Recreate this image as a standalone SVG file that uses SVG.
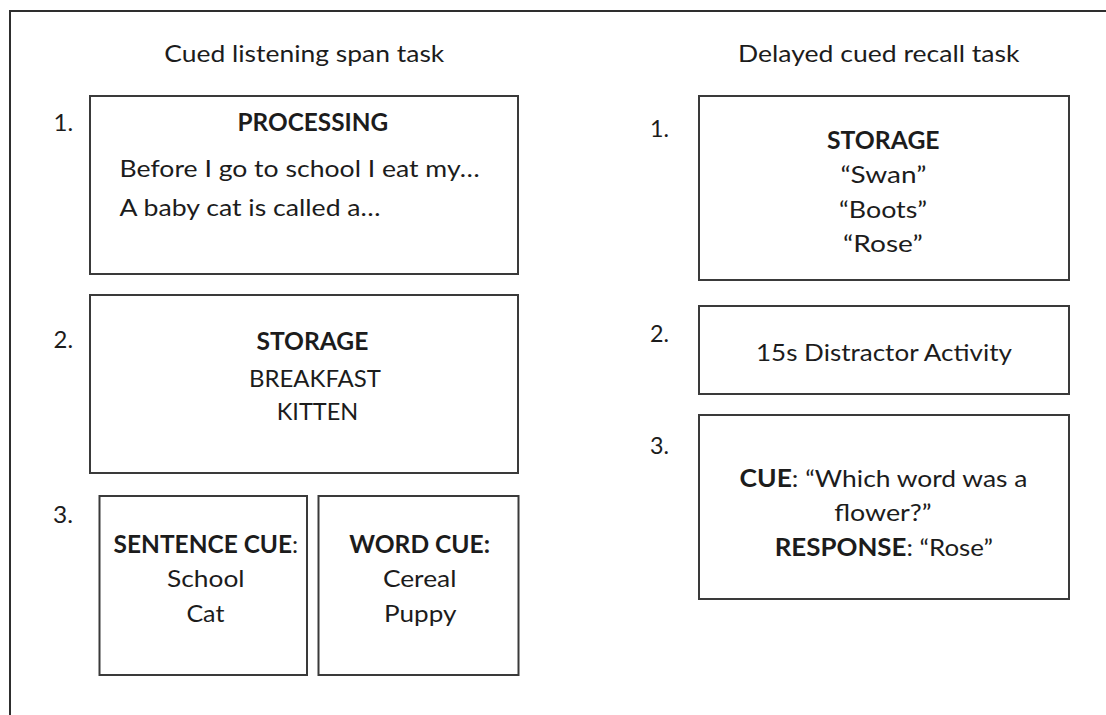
<svg xmlns="http://www.w3.org/2000/svg" width="1106" height="715" viewBox="0 0 1106 715">
  <style>
    .frame { fill: none; stroke: #2e2e2e; stroke-width: 2; }
    .box { fill: #ffffff; stroke: #3a3a3a; stroke-width: 2; }
    text { font-family: Lato, "Open Sans", "Liberation Sans", sans-serif; font-size: 24px; fill: #1c1c1c; }
    .b { font-weight: bold; }
  </style>

  <rect x="0" y="0" width="1106" height="715" fill="#ffffff"/>
  <!-- outer panel border (open on right and bottom) -->
  <path class="frame" d="M10,715 V11 H1106"/>

  <!-- column headings -->
  <g id="heading-left">
    <text x="164.3" y="61.7" textLength="280" lengthAdjust="spacingAndGlyphs">Cued listening span task</text>
  </g>
  <g id="heading-right">
    <text x="738" y="61.7" textLength="281.5" lengthAdjust="spacingAndGlyphs">Delayed cued recall task</text>
  </g>

  <!-- step numbers -->
  <g id="step-numbers">
    <text x="53.6" y="130.7" textLength="19.6" lengthAdjust="spacingAndGlyphs">1.</text>
    <text x="53.6" y="348.3" textLength="19.5" lengthAdjust="spacingAndGlyphs">2.</text>
    <text x="53" y="523.3" textLength="20" lengthAdjust="spacingAndGlyphs">3.</text>
    <text x="650" y="136.7" textLength="19" lengthAdjust="spacingAndGlyphs">1.</text>
    <text x="650" y="341.7" textLength="19" lengthAdjust="spacingAndGlyphs">2.</text>
    <text x="650" y="454" textLength="19" lengthAdjust="spacingAndGlyphs">3.</text>
  </g>

  <!-- left column: cued listening span task -->
  <g id="processing">
    <rect class="box" x="90" y="96" width="428" height="178"/>
    <text class="b" x="237.5" y="130.7" textLength="150.7" lengthAdjust="spacingAndGlyphs">PROCESSING</text>
    <text x="119.6" y="176.7" textLength="360" lengthAdjust="spacingAndGlyphs">Before I go to school I eat my…</text>
    <text x="119.6" y="216" textLength="261" lengthAdjust="spacingAndGlyphs">A baby cat is called a…</text>
  </g>

  <g id="storage-left">
    <rect class="box" x="90" y="295" width="428" height="178"/>
    <text class="b" x="256.4" y="350" textLength="112" lengthAdjust="spacingAndGlyphs">STORAGE</text>
    <text x="249" y="386.7" textLength="132" lengthAdjust="spacingAndGlyphs">BREAKFAST</text>
    <text x="276.8" y="420" textLength="81.4" lengthAdjust="spacingAndGlyphs">KITTEN</text>
  </g>

  <g id="sentence-cue">
    <rect class="box" x="99.5" y="496" width="207.5" height="179"/>
    <text x="113.6" y="553.3" textLength="184.6" lengthAdjust="spacingAndGlyphs"><tspan class="b">SENTENCE CUE</tspan>:</text>
    <text x="167" y="586.7" textLength="77.6" lengthAdjust="spacingAndGlyphs">School</text>
    <text x="186.4" y="621.7" textLength="38" lengthAdjust="spacingAndGlyphs">Cat</text>
  </g>

  <g id="word-cue">
    <rect class="box" x="318.5" y="496" width="200" height="179"/>
    <text class="b" x="349.3" y="553.3" textLength="140.7" lengthAdjust="spacingAndGlyphs">WORD CUE:</text>
    <text x="382.9" y="586.7" textLength="73.5" lengthAdjust="spacingAndGlyphs">Cereal</text>
    <text x="384" y="621.7" textLength="72.4" lengthAdjust="spacingAndGlyphs">Puppy</text>
  </g>

  <!-- right column: delayed cued recall task -->
  <g id="storage-right">
    <rect class="box" x="699" y="96" width="370" height="184"/>
    <text class="b" x="827" y="149.3" textLength="112.6" lengthAdjust="spacingAndGlyphs">STORAGE</text>
    <text x="840.4" y="183.3" textLength="86" lengthAdjust="spacingAndGlyphs">“Swan”</text>
    <text x="839" y="218.3" textLength="88" lengthAdjust="spacingAndGlyphs">“Boots”</text>
    <text x="843" y="251.7" textLength="79.7" lengthAdjust="spacingAndGlyphs">“Rose”</text>
  </g>

  <g id="distractor">
    <rect class="box" x="699" y="306" width="370" height="88"/>
    <text x="756" y="361" textLength="256" lengthAdjust="spacingAndGlyphs">15s Distractor Activity</text>
  </g>

  <g id="cue-response">
    <rect class="box" x="699" y="415" width="370" height="184"/>
    <text x="739.6" y="486.7" textLength="287.8" lengthAdjust="spacingAndGlyphs"><tspan class="b">CUE</tspan>: “Which word was a</text>
    <text x="834.2" y="520.7" textLength="97.5" lengthAdjust="spacingAndGlyphs">flower?”</text>
    <text x="774.7" y="556" textLength="218.3" lengthAdjust="spacingAndGlyphs"><tspan class="b">RESPONSE</tspan>: “Rose”</text>
  </g>

  <!-- no connectors in this figure -->
  <g id="connectors"/>
</svg>
